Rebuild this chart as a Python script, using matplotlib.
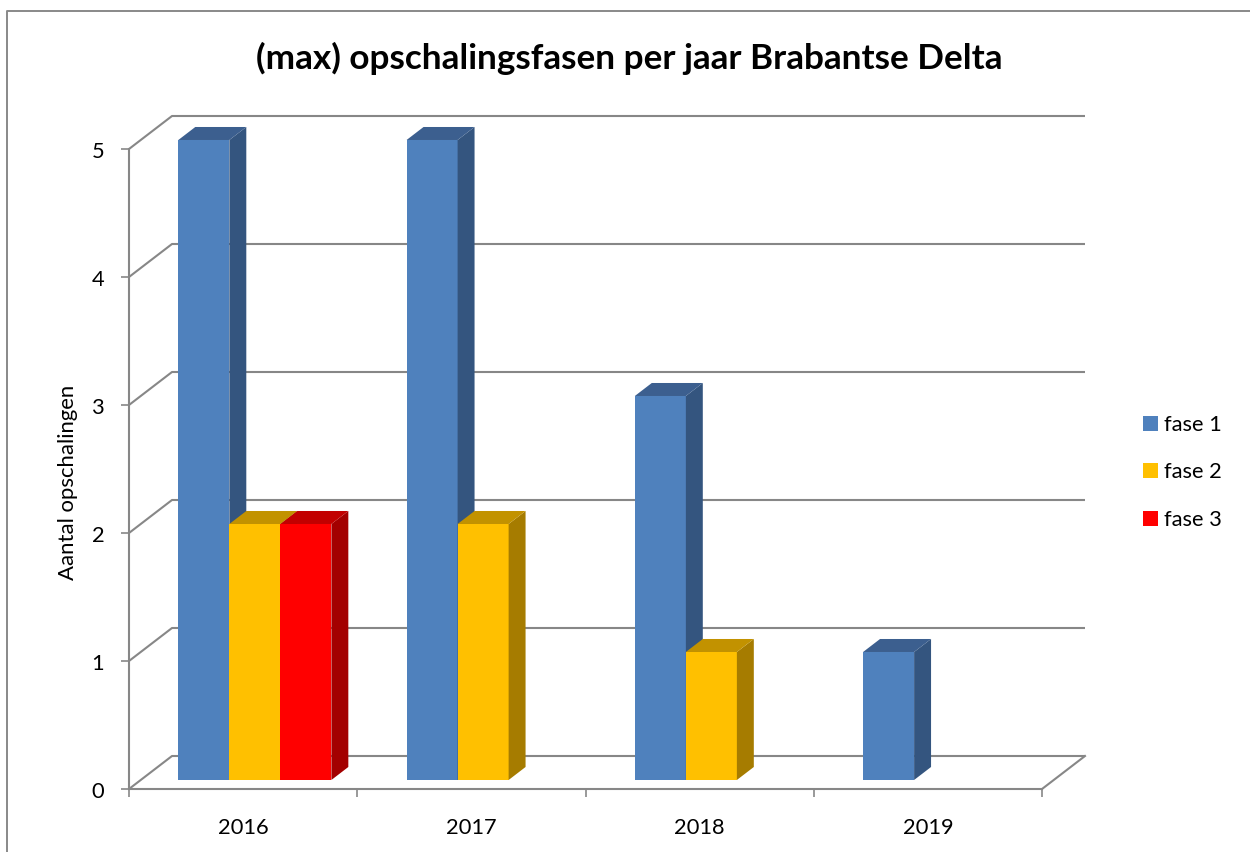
import matplotlib
matplotlib.use('Agg')
import matplotlib.pyplot as plt
from matplotlib.patches import Polygon, Rectangle
from matplotlib.lines import Line2D

# ---------------- data ----------------
years = ['2016', '2017', '2018', '2019']
series = ['fase 1', 'fase 2', 'fase 3']
fase1 = [5, 5, 3, 1]
fase2 = [2, 2, 1, 0]
fase3 = [2, 0, 0, 0]
yticks = [0, 1, 2, 3, 4, 5]
title = '(max) opschalingsfasen per jaar Brabantse Delta'
ylabel = 'Aantal opschalingen'

values = [fase1, fase2, fase3]
front_cols = ['#4F81BD', '#FFC000', '#FF0000']
side_cols = ['#34557F', '#A67C00', '#A30000']
top_cols = ['#3C5F8F', '#C29200', '#C20000']

GRID = '#878787'
plt.rcParams['font.family'] = ['Lato', 'DejaVu Sans']

W, H = 1250, 853
fig = plt.figure(figsize=(W / 100, H / 100), dpi=100)
renderer = fig.canvas.get_renderer()


def fit_width(t, target):
    bb = t.get_window_extent(renderer)
    t.set_fontsize(t.get_fontsize() * target / bb.width)


# figure border (top + left visible)
fig.add_artist(Line2D([7 / W, 7 / W, 1.0], [0.0, 1 - 12 / H, 1 - 12 / H],
                      transform=fig.transFigure, color='#898989', lw=1.4))

# axes geometry (pixels, image coords with top = 0)
x0p, x1p, y0p, y1p = 129, 1085, 790, 117
depth_px_x, depth_px_y = 43, 33
ax = fig.add_axes([x0p / W, (H - y0p) / H, (x1p - x0p) / W, (y0p - y1p) / H])
ncat = len(years)
ymax = max(yticks)
pc = (x1p - x0p - depth_px_x) / ncat
pv = (y0p - y1p - depth_px_y) / ymax
Dx = depth_px_x / pc
Dy = depth_px_y / pv
ax.set_xlim(0, ncat + Dx)
ax.set_ylim(0, ymax + Dy)
ax.patch.set_visible(False)

# back wall gridlines with diagonal to front axis
for v in yticks:
    ax.plot([0, Dx, ncat + Dx], [v, v + Dy, v + Dy], color=GRID, lw=1.5,
            solid_capstyle='butt', clip_on=False, zorder=1)
# floor right edge
ax.plot([ncat, ncat + Dx], [0, Dy], color=GRID, lw=1.5, clip_on=False, zorder=1)

# bars
nser = len(series)
bw = 0.2235
f0, f1 = 0.273, 0.667
dbx, dby = (f1 - f0) * Dx, (f1 - f0) * Dy
for i in range(ncat):
    for j in range(nser):
        v = values[j][i]
        if v == 0:
            continue
        xl = i + 0.5 + (j - (nser - 1) / 2) * bw - bw / 2 + f0 * Dx
        yb = f0 * Dy
        z = 3 + i * 10 + j
        ax.add_patch(Rectangle((xl, yb), bw, v, facecolor=front_cols[j],
                               edgecolor='none', zorder=z, clip_on=False))
        ax.add_patch(Polygon([(xl + bw, yb), (xl + bw + dbx, yb + dby),
                              (xl + bw + dbx, yb + v + dby), (xl + bw, yb + v)],
                             closed=True, facecolor=side_cols[j], edgecolor='none',
                             zorder=z, clip_on=False))
        ax.add_patch(Polygon([(xl, yb + v), (xl + bw, yb + v),
                              (xl + bw + dbx, yb + v + dby), (xl + dbx, yb + v + dby)],
                             closed=True, facecolor=top_cols[j], edgecolor='none',
                             zorder=z, clip_on=False))

# spines
for s in ['top', 'right']:
    ax.spines[s].set_visible(False)
for s in ['left', 'bottom']:
    ax.spines[s].set_color(GRID)
    ax.spines[s].set_linewidth(1.5)
    ax.spines[s].set_zorder(100)
ax.spines['left'].set_bounds(0, ymax)
ax.spines['bottom'].set_bounds(0, ncat)

# tick font size fitted to reference label width
tmp = fig.text(0, 0, '2016', fontsize=15)
fit_width(tmp, 51)
tfs = tmp.get_fontsize()
tmp.remove()

ax.set_yticks(yticks)
ax.set_yticklabels([str(v) for v in yticks], fontsize=tfs)
ax.tick_params(axis='y', direction='out', length=5.8, width=1.2, color=GRID, pad=12)
ax.set_xticks(range(ncat + 1))
ax.set_xticklabels([''] * (ncat + 1))
ax.tick_params(axis='x', which='major', direction='out', length=5.8, width=1.2, color=GRID)
ax.set_xticks([i + 0.5 for i in range(ncat)], minor=True)
ax.set_xticklabels(years, minor=True, fontsize=tfs)
ax.tick_params(axis='x', which='minor', length=0, pad=20)

# y label
yl = fig.text(68 / W, 1 - 482 / H, ylabel, rotation=90, ha='center', va='center',
              fontsize=15)
bb = yl.get_window_extent(renderer)
yl.set_fontsize(yl.get_fontsize() * 195 / bb.height)

# title
tt = fig.text(629.5 / W, 1 - 58 / H, title, ha='center', va='center',
              fontsize=22, fontweight='bold')
fit_width(tt, 745)

# legend
rows_y = [424, 471, 519]
for j, name in enumerate(series):
    fig.add_artist(Rectangle((1143 / W, 1 - (rows_y[j] + 7.5) / H), 15 / W, 15 / H,
                             transform=fig.transFigure, facecolor=front_cols[j],
                             edgecolor='none'))
    lt = fig.text(1164 / W, 1 - (rows_y[j] + 1) / H, name, ha='left', va='center',
                  fontsize=tfs)

fig.savefig('out.png', dpi=100)
